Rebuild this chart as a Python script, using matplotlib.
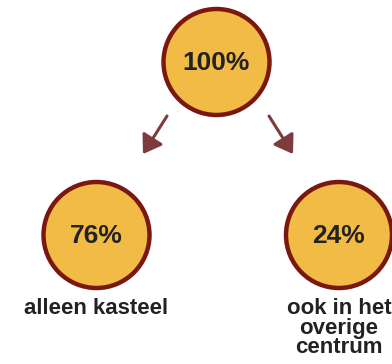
import matplotlib
matplotlib.use("Agg")
import matplotlib.pyplot as plt
from matplotlib.patches import Circle, FancyArrowPatch

plt.rcParams['font.family'] = ['Liberation Sans', 'DejaVu Sans']

values = [100, 76, 24]
labels = ["", "alleen kasteel", "ook in het\noverige\ncentrum"]

W, H = 392, 364
fig = plt.figure(figsize=(W / 100, H / 100), dpi=100)
ax = fig.add_axes([0, 0, 1, 1])
ax.set_xlim(0, W)
ax.set_ylim(H, 0)
ax.set_aspect('equal')
ax.axis('off')

centers = [(216.5, 62), (96.5, 235), (339, 235)]
radius = 53
fill = '#F2BB45'
edge = '#7A1810'
txt = '#222222'

for (cx, cy), v, lab in zip(centers, values, labels):
    ax.add_patch(Circle((cx, cy), radius, facecolor=fill, edgecolor=edge, linewidth=3.2))
    ax.text(cx, cy + 1, f"{v}%", ha='center', va='center', fontsize=19,
            fontweight='bold', color=txt)
    if lab:
        ax.text(cx, cy + 63, lab, ha='center', va='top', fontsize=16,
                fontweight='bold', color=txt, linespacing=0.92)

arrow_color = '#7E3A3C'
for (x0, y0, x1, y1) in [(167, 116, 143, 154), (269, 116, 293, 154)]:
    ax.add_patch(FancyArrowPatch((x0, y0), (x1, y1), arrowstyle='-|>,head_length=6,head_width=4',
                                 mutation_scale=1.8, color=arrow_color, linewidth=2.2,
                                 shrinkA=0, shrinkB=0))

fig.savefig('out.png', dpi=100)
